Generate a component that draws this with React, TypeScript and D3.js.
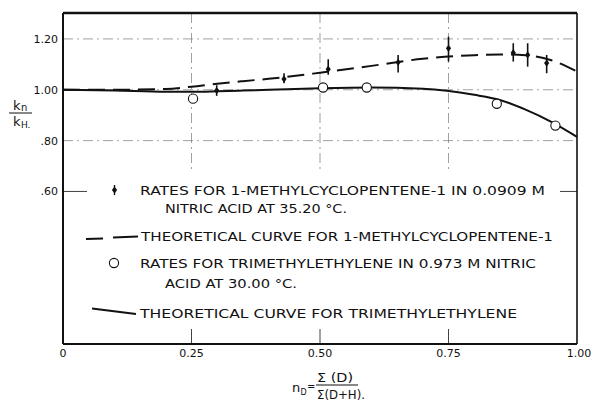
import React from "react";
import * as d3 from "d3";

// ---- data ----
const curveX = [0, 0.1, 0.2, 0.25, 0.3, 0.35, 0.4, 0.5, 0.6, 0.7, 0.8, 0.85, 0.9, 0.95, 1.0];
const methylTheory = [1.0, 1.0, 1.003, 1.012, 1.024, 1.034, 1.043, 1.067, 1.094, 1.122, 1.136, 1.139, 1.136, 1.116, 1.072];
const trimethylTheory = [1.0, 0.997, 0.992, 0.992, 0.994, 0.997, 1.0, 1.006, 1.009, 1.004, 0.98, 0.96, 0.922, 0.874, 0.815];

const methylX = [0.299, 0.43, 0.516, 0.652, 0.75, 0.876, 0.904, 0.941];
const methylY = [0.997, 1.042, 1.081, 1.108, 1.163, 1.146, 1.137, 1.105];
const methylLo = [0.976, 1.026, 1.059, 1.068, 1.111, 1.111, 1.091, 1.065];
const methylHi = [1.018, 1.065, 1.120, 1.137, 1.209, 1.183, 1.183, 1.137];

const trimethylX = [0.253, 0.506, 0.591, 0.844, 0.958];
const trimethylY = [0.965, 1.009, 1.009, 0.945, 0.859];

const xTicks = [0, 0.25, 0.5, 0.75, 1.0];
const xTickLabels = ["0", "0.25", "0.50", "0.75", "1.00"];
const yTicks = [1.2, 1.0, 0.8, 0.6];
const yTickLabels = ["1.20", "1.00", ".80", ".60"];

const legendLines = [
  "RATES FOR 1-METHYLCYCLOPENTENE-1 IN 0.0909 M",
  "NITRIC ACID AT 35.20 °C.",
  "THEORETICAL CURVE FOR 1-METHYLCYCLOPENTENE-1",
  "RATES FOR TRIMETHYLETHYLENE IN 0.973 M NITRIC",
  "ACID AT 30.00 °C.",
  "THEORETICAL CURVE FOR TRIMETHYLETHYLENE",
];

export default function App() {
  const W = 591, H = 403;
  const left = 63, right = 577, top = 13, bottom = 344;
  const x = d3.scaleLinear().domain([0, 1]).range([left, right]);
  const y = d3.scaleLinear().domain([0, 1.302]).range([bottom, top]);
  const font = "'DejaVu Sans', sans-serif";
  const ink = "#111";
  const grid = "#777";

  const line = d3
    .line<number>()
    .x((_, i) => x(curveX[i]))
    .y((d) => y(d))
    .curve(d3.curveMonotoneX);

  const diamond = (cx: number, cy: number, w = 2.6, h = 3.6) =>
    `M${cx},${cy - h}L${cx + w},${cy}L${cx},${cy + h}L${cx - w},${cy}Z`;

  const legendPos = [
    { x: 140, y: 195, len: 405 },
    { x: 165, y: 213, len: 182 },
    { x: 141, y: 241, len: 412 },
    { x: 140, y: 268, len: 396 },
    { x: 165, y: 288, len: 132 },
    { x: 140, y: 318, len: 377 },
  ];

  return (
    <svg width={W} height={H} style={{ position: "absolute", left: 0, top: 0, background: "#fff" }}>
      <rect x={0} y={0} width={W} height={H} fill="#fff" />
      {/* grid lines */}
      {[1.2, 1.0, 0.8].map((v) => (
        <line key={"hg" + v} x1={left} x2={right} y1={y(v)} y2={y(v)} stroke={grid} strokeWidth={0.7} strokeDasharray="10,4,2,4" />
      ))}
      {[0.25, 0.5, 0.75].map((v) => (
        <line key={"vg" + v} x1={x(v)} x2={x(v)} y1={top} y2={173} stroke={grid} strokeWidth={0.7} strokeDasharray="10,4,2,4" />
      ))}
      {/* 0.60 stubs */}
      <line x1={left} x2={left + 24} y1={y(0.6)} y2={y(0.6)} stroke={ink} strokeWidth={0.8} />
      <line x1={right - 17} x2={right} y1={y(0.6)} y2={y(0.6)} stroke={ink} strokeWidth={0.8} />
      {/* bottom ticks */}
      {[0.25, 0.5, 0.75].map((v) => (
        <line key={"bt" + v} x1={x(v)} x2={x(v)} y1={bottom - 15} y2={bottom} stroke={ink} strokeWidth={0.8} />
      ))}
      {/* frame */}
      <line x1={left} x2={right} y1={top} y2={top} stroke={ink} strokeWidth={2.5} />
      <line x1={left} x2={right} y1={bottom} y2={bottom} stroke={ink} strokeWidth={2} />
      <line x1={left} x2={left} y1={top} y2={bottom} stroke={ink} strokeWidth={2} />
      <line x1={right} x2={right} y1={top} y2={bottom} stroke={ink} strokeWidth={1.6} />

      {/* theoretical curves */}
      <path d={line(methylTheory) || ""} fill="none" stroke={ink} strokeWidth={2} strokeDasharray="17,8" />
      <path d={line(trimethylTheory) || ""} fill="none" stroke={ink} strokeWidth={2} />

      {/* methyl data points */}
      {methylX.map((v, i) => (
        <g key={"m" + i}>
          <line x1={x(v)} x2={x(v)} y1={y(methylLo[i])} y2={y(methylHi[i])} stroke={ink} strokeWidth={1.6} />
          <path d={diamond(x(v), y(methylY[i]))} fill={ink} />
        </g>
      ))}
      {/* trimethyl data points */}
      {trimethylX.map((v, i) => (
        <circle key={"t" + i} cx={x(v)} cy={y(trimethylY[i])} r={4.6} fill="#fff" stroke={ink} strokeWidth={1.1} />
      ))}

      {/* y tick labels */}
      {yTicks.map((v, i) => (
        <text key={"yl" + i} x={58} y={y(v) + 4} textAnchor="end" fontFamily={font} fontSize={11} fill={ink}>
          {yTickLabels[i]}
        </text>
      ))}
      {/* x tick labels */}
      {xTicks.map((v, i) => (
        <text key={"xl" + i} x={x(v) + (i === 4 ? 2 : 0)} y={357} textAnchor="middle" fontFamily={font} fontSize={11} fill={ink}>
          {xTickLabels[i]}
        </text>
      ))}

      {/* y axis label */}
      <text x={13} y={110} fontFamily={font} fontSize={13} fill={ink}>k</text>
      <text x={21} y={111} fontFamily={font} fontSize={10} fill={ink}>n</text>
      <line x1={9} x2={32} y1={113} y2={113} stroke={ink} strokeWidth={1} />
      <text x={13} y={126} fontFamily={font} fontSize={13} fill={ink}>k</text>
      <text x={21} y={128} fontFamily={font} fontSize={9} fill={ink}>H.</text>

      {/* x axis label */}
      <text x={292} y={392} fontFamily={font} fontSize={13} fill={ink}>n</text>
      <text x={300.5} y={395} fontFamily={font} fontSize={8} fill={ink}>D</text>
      <text x={307} y={390} fontFamily={font} fontSize={10} fill={ink}>=</text>
      <text x={317} y={382} fontFamily={font} fontSize={12} fill={ink} textLength={36} lengthAdjust="spacingAndGlyphs">Σ (D)</text>
      <line x1={316} x2={358} y1={385} y2={385} stroke={ink} strokeWidth={1} />
      <text x={317} y={399} fontFamily={font} fontSize={12} fill={ink} textLength={48} lengthAdjust="spacingAndGlyphs">Σ(D+H).</text>

      {/* legend */}
      {legendLines.map((t, i) => (
        <text key={"lg" + i} x={legendPos[i].x} y={legendPos[i].y} fontFamily={font} fontSize={13} fill={ink}
          textLength={legendPos[i].len} lengthAdjust="spacingAndGlyphs">
          {t}
        </text>
      ))}
      {/* legend symbols */}
      <line x1={114.5} x2={114.5} y1={185} y2={195} stroke={ink} strokeWidth={1.4} />
      <path d={diamond(114.5, 190, 2.6, 3.6)} fill={ink} />
      <line x1={86} x2={103} y1={239} y2={238.5} stroke={ink} strokeWidth={2} />
      <line x1={113} x2={138} y1={237.5} y2={236.5} stroke={ink} strokeWidth={2} />
      <circle cx={114} cy={263} r={4.6} fill="#fff" stroke={ink} strokeWidth={1.1} />
      <line x1={92} x2={136} y1={308.5} y2={314} stroke={ink} strokeWidth={2} />
    </svg>
  );
}
